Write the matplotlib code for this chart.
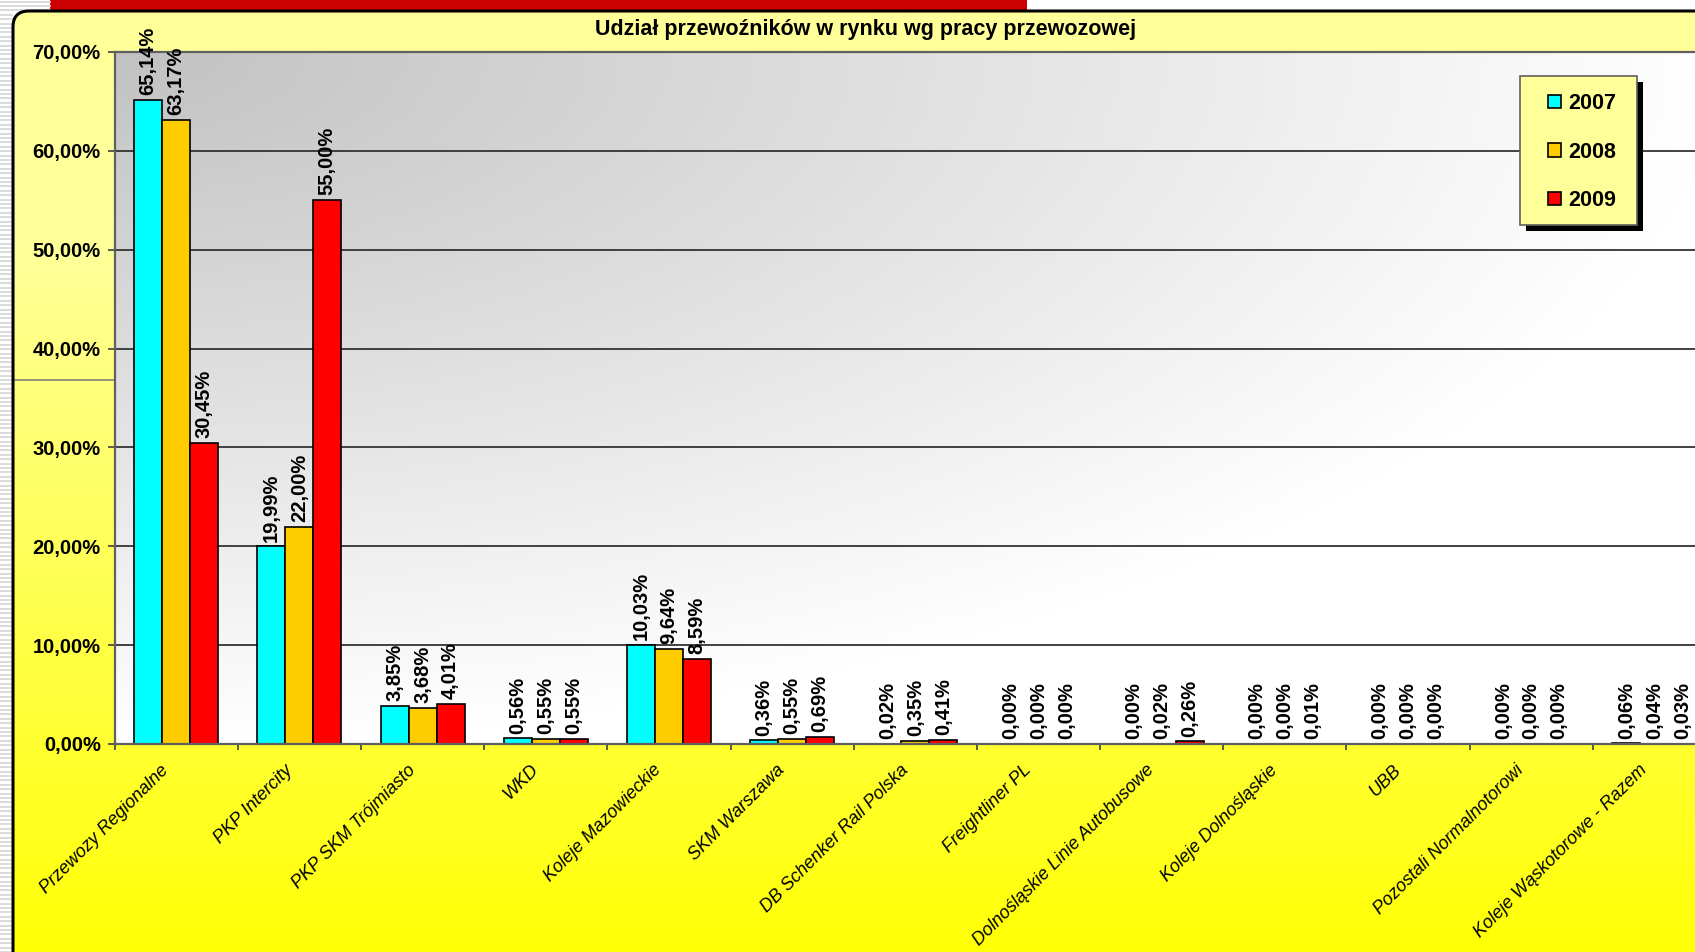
import numpy as np
import matplotlib
matplotlib.use('Agg')
import matplotlib.pyplot as plt
from matplotlib.patches import FancyBboxPatch, Rectangle
from matplotlib.ticker import FuncFormatter
from matplotlib.transforms import ScaledTranslation

plt.rcParams['font.family'] = ['Liberation Sans', 'DejaVu Sans']

# dane
przewoznicy = ['Przewozy Regionalne', 'PKP Intercity', 'PKP SKM Trójmiasto', 'WKD',
               'Koleje Mazowieckie', 'SKM Warszawa', 'DB Schenker Rail Polska',
               'Freightliner PL', 'Dolnośląskie Linie Autobusowe', 'Koleje Dolnośląskie',
               'UBB', 'Pozostali Normalnotorowi', 'Koleje Wąskotorowe - Razem']
lata = ['2007', '2008', '2009']
udzial_2007 = [65.14, 19.99, 3.85, 0.56, 10.03, 0.36, 0.02, 0.00, 0.00, 0.00, 0.00, 0.00, 0.06]
udzial_2008 = [63.17, 22.00, 3.68, 0.55, 9.64, 0.55, 0.35, 0.00, 0.02, 0.00, 0.00, 0.00, 0.04]
udzial_2009 = [30.45, 55.00, 4.01, 0.55, 8.59, 0.69, 0.41, 0.00, 0.26, 0.01, 0.00, 0.00, 0.03]
kolory = ['#00FFFF', '#FFCC00', '#FF0000']

W, H = 1695, 952
fig = plt.figure(figsize=(W / 100, H / 100), dpi=100)
fig.patch.set_facecolor('white')

# tlo: paski z lewej, czerwony pasek, zaokraglona ramka z gradientem
bg = fig.add_axes([0, 0, 1, 1], zorder=-1)
bg.set_xlim(0, W)
bg.set_ylim(H, 0)
bg.axis('off')
for y in np.arange(1.5, H, 4.4):
    bg.plot([0, 12], [y, y], color='#D8D8D8', lw=1.3)
for y in np.arange(1.5, 11, 4.4):
    bg.plot([12, 50], [y, y], color='#D8D8D8', lw=1.3)
bg.add_patch(Rectangle((50, 0), 977, 10.5, color='#CC0000', lw=0))

frame = FancyBboxPatch((13, 11), W + 40, H + 40, boxstyle='round,pad=0,rounding_size=16',
                       facecolor='none', edgecolor='black', lw=2.2, zorder=3)
bg.add_patch(frame)
yy = np.linspace(0, 1, 400)[:, None]
b = np.clip(0.6 - np.clip((yy * H - 250) / (H - 250), 0, 1) * 0.58, 0, 1)
grad = np.dstack([np.ones_like(b), np.ones_like(b), b])
im = bg.imshow(grad, extent=(0, W, H, 0), aspect='auto', zorder=1)
im.set_clip_path(frame)
bg.plot([15, 113], [380, 380], color='#808080', lw=1.2, zorder=2)

# wykres
L, R, T, B = 114.6, 1716.0, 52.0, 744.0
ax = fig.add_axes([L / W, (H - B) / H, (R - L) / W, (B - T) / H])
ax.patch.set_facecolor('none')
n = len(przewoznicy)
ax.set_xlim(0, n)
ax.set_ylim(0, 70)

gx = np.linspace(0, 1, 300)[None, :]
gy = np.linspace(0, 1, 200)[:, None]
d = np.clip(np.sqrt(gx ** 2 + gy ** 2), 0, 1)
v = 0.76 + 0.24 * d
ax.imshow(np.dstack([v, v, v]), extent=(0, n, 0, 70), aspect='auto', zorder=0, origin='upper')

ax.set_axisbelow(True)
ax.yaxis.grid(True, color='#333333', lw=1.3)

x = np.arange(n) + 0.5
bw = 0.227
for k, (vals, col, rok) in enumerate(zip([udzial_2007, udzial_2008, udzial_2009], kolory, lata)):
    pos = x + (k - 1) * bw
    ax.bar(pos, vals, bw, color=col, edgecolor='black', lw=1.2, label=rok, zorder=2)
    for px, val in zip(pos, vals):
        ax.annotate(f'{val:.2f}%'.replace('.', ','), xy=(px, val), xytext=(0, 3.5),
                    textcoords='offset points', rotation=90, ha='center', va='bottom',
                    fontsize=14.5, fontweight='bold', zorder=3)

for s in ['top', 'left', 'bottom']:
    ax.spines[s].set_color('#606060')
    ax.spines[s].set_linewidth(1.6)
ax.spines['right'].set_visible(False)

ax.set_yticks(np.arange(0, 71, 10))
ax.yaxis.set_major_formatter(FuncFormatter(lambda t, p: f'{t:.2f}%'.replace('.', ',')))
ax.tick_params(axis='y', length=5, width=1.2, color='#404040', pad=5, labelsize=14.5)
for lab in ax.get_yticklabels():
    lab.set_fontweight('bold')

ax.set_xticks(np.arange(0, n + 1))
ax.set_xticklabels([])
ax.tick_params(axis='x', which='major', length=4, width=1.2, color='#404040')
ax.set_xticks(x, minor=True)
ax.set_xticklabels(przewoznicy, minor=True, rotation=45, ha='right', va='center',
                   rotation_mode='anchor', fontsize=13, fontstyle='italic')
ax.tick_params(axis='x', which='minor', length=0, pad=17)
for lab in ax.get_xticklabels(minor=True):
    lab.set_transform(lab.get_transform() + ScaledTranslation(-7 / 72, 0, fig.dpi_scale_trans))

fig.text(866 / W, 1 - 29 / H, 'Udział przewoźników w rynku wg pracy przewozowej',
         ha='center', va='center', fontsize=15.5, fontweight='bold')

# legenda
lx0, ly0, lw_, lh_ = 1520, 76, 117, 149
fig.patches.append(Rectangle(((lx0 + 6) / W, 1 - (ly0 + lh_ + 6) / H), lw_ / W, lh_ / H,
                             transform=fig.transFigure, facecolor='black', lw=0, zorder=2))
fig.patches.append(Rectangle((lx0 / W, 1 - (ly0 + lh_) / H), lw_ / W, lh_ / H,
                             transform=fig.transFigure, facecolor='#FFFF99',
                             edgecolor='#606060', lw=1.2, zorder=3))
handles, labels = ax.get_legend_handles_labels()
leg = fig.legend(handles, labels, loc='center',
                 bbox_to_anchor=((lx0 + lw_ / 2 + 4) / W, 1 - (ly0 + lh_ / 2 + 1.5) / H),
                 frameon=False, prop={'weight': 'bold', 'size': 15.5},
                 handlelength=0.58, handleheight=0.58, handletextpad=0.35, labelspacing=1.27)
leg.set_zorder(5)

fig.savefig('out.png', dpi=100)
